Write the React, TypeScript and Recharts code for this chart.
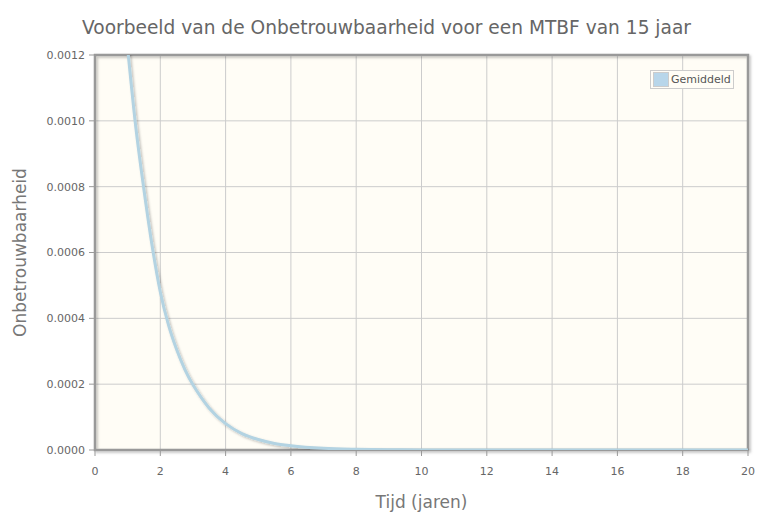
import React from "react";
import { LineChart, Line, XAxis, YAxis, CartesianGrid, ReferenceArea } from "recharts";

const years = [1, 1.25, 1.5, 1.75, 2, 2.25, 2.5, 2.75, 3, 3.25, 3.5, 4, 4.5, 5, 5.5, 6, 7, 8, 9, 10, 12, 14, 16, 18, 20];
const gemiddeld = [0.00122, 0.00098, 0.00079, 0.00062, 0.00048, 0.00038, 0.000305, 0.000245, 0.000198, 0.00016, 0.000127, 0.00008, 0.00005, 0.000032, 0.00002, 0.000013, 0.000005, 0.000002, 0.0000008, 0.0000003, 0, 0, 0, 0, 0];
const xTicks = [0, 2, 4, 6, 8, 10, 12, 14, 16, 18, 20];
const yTicks = [0, 0.0002, 0.0004, 0.0006, 0.0008, 0.001, 0.0012];

const title = "Voorbeeld van de Onbetrouwbaarheid voor een MTBF van 15 jaar";
const xLabel = "Tijd (jaren)";
const yLabel = "Onbetrouwbaarheid";
const seriesName = "Gemiddeld";

const data = years.map((t, i) => ({ t, v: gemiddeld[i] }));

const FONT = "'DejaVu Sans', sans-serif";

const YLabel = (props: any) => {
  const vb = props.viewBox || {};
  const cy = (vb.y ?? 55) + (vb.height ?? 395) / 2;
  const cx = 26;
  return (
    <text
      x={cx}
      y={cy}
      transform={`rotate(-90 ${cx} ${cy})`}
      textAnchor="middle"
      fill="#777777"
      fontSize={17}
      fontFamily={FONT}
    >
      {yLabel}
    </text>
  );
};

export default function App() {
  return (
    <div style={{ position: "absolute", left: 0, top: 0, width: 781, height: 525, background: "#ffffff" }}>
      <div
        style={{
          position: "absolute",
          left: 0,
          top: 17,
          width: 773,
          textAlign: "center",
          fontFamily: FONT,
          fontSize: 18.6,
          color: "#666666",
          zIndex: 2,
        }}
      >
        {title}
      </div>
      <div
        style={{
          position: "absolute",
          left: 650,
          top: 70,
          display: "flex",
          alignItems: "center",
          border: "1px solid #cccccc",
          background: "#fffdf6",
          padding: "1px 2px",
          fontFamily: FONT,
          fontSize: 11,
          color: "#555555",
          zIndex: 2,
        }}
      >
        <span style={{ display: "inline-block", width: 14, height: 13, background: "#b8d6ea", border: "1px solid #cccccc", marginRight: 2 }} />
        <span>{seriesName}</span>
      </div>
      <LineChart width={781} height={525} data={data} margin={{ top: 55, right: 33, bottom: 0, left: 0 }}>
        <defs>
          <filter id="sh" x="-10%" y="-10%" width="130%" height="130%">
            <feDropShadow dx="1.5" dy="1.5" stdDeviation="1" floodColor="#000" floodOpacity="0.25" />
          </filter>
        </defs>
        <CartesianGrid stroke="#cccccc" fill="#fffdf6" fillOpacity={1} />
        <XAxis
          dataKey="t"
          type="number"
          domain={[0, 20]}
          ticks={xTicks}
          interval={0}
          height={75}
          axisLine={false}
          tickLine={{ stroke: "#999999" }}
          tickSize={6}
          tick={{ fill: "#666666", fontSize: 11, fontFamily: FONT }}
          tickMargin={11}
          label={{ value: xLabel, position: "insideBottom", offset: 17, fill: "#777777", fontSize: 17, fontFamily: FONT }}
        />
        <YAxis
          type="number"
          domain={[0, 0.0012]}
          allowDataOverflow
          ticks={yTicks}
          interval={0}
          width={95}
          axisLine={false}
          tickLine={{ stroke: "#999999" }}
          tickSize={6}
          tickMargin={4}
          tickFormatter={(v: number) => v.toFixed(4)}
          tick={{ fill: "#666666", fontSize: 11, fontFamily: FONT }}
          label={<YLabel />}
        />
        <ReferenceArea x1={0} x2={20} y1={0} y2={0.0012} fill="none" stroke="#999999" strokeWidth={2.5} filter="url(#sh)" ifOverflow="visible" />
        <Line
          type="monotone"
          dataKey="v"
          name={seriesName}
          stroke="#b3d3e2"
          strokeWidth={3}
          dot={false}
          isAnimationActive={false}
          filter="url(#sh)"
        />
      </LineChart>
    </div>
  );
}
